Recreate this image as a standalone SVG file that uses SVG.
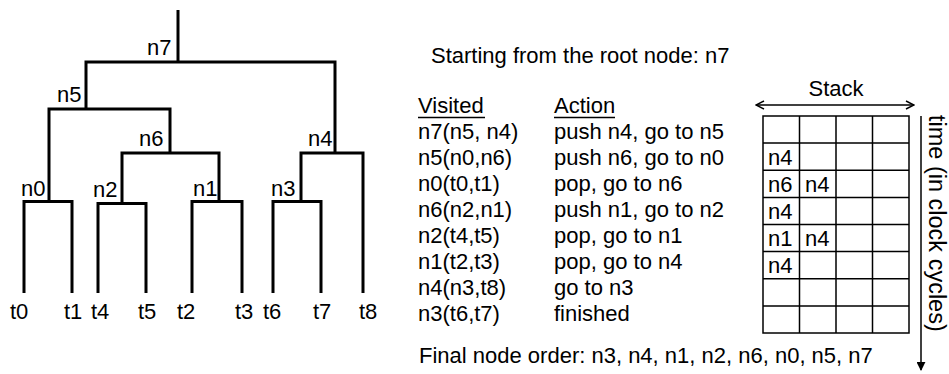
<svg xmlns="http://www.w3.org/2000/svg" width="949" height="374" viewBox="0 0 949 374">
<defs>
<style>
text{font-family:"Liberation Sans",Arial,sans-serif;font-size:22px;fill:#000}
.tree{stroke:#000;stroke-width:3;fill:none}
.grid{stroke:#000;stroke-width:1.5;fill:none}
.ax{stroke:#000;stroke-width:1.5;fill:none}
</style>
<marker id="open" viewBox="0 0 10 10" refX="9" refY="5" markerWidth="10" markerHeight="10" markerUnits="userSpaceOnUse" orient="auto-start-reverse">
<path d="M1,1 L9,5 L1,9" fill="none" stroke="#000" stroke-width="1.5"/>
</marker>
<marker id="fill" viewBox="0 0 10 10" refX="9" refY="5" markerWidth="9" markerHeight="9" markerUnits="userSpaceOnUse" orient="auto">
<path d="M0,0 L10,5 L0,10 Z" fill="#000"/>
</marker>
</defs>
<rect width="949" height="374" fill="#fff"/>
<g id="connectors" class="tree">
<path d="M178,10 V62"/>
<path d="M86,109 V62 H335 V153"/>
<path d="M49,201 V109 H170 V153"/>
<path d="M122,203 V153 H219 V201"/>
<path d="M301,201 V153 H363 V293"/>
<path d="M24,293 V201.5 H72 V293"/>
<path d="M98,293 V203.5 H146 V293"/>
<path d="M192,293 V201.5 H242 V293"/>
<path d="M273,293 V201.5 H321 V293"/>
</g>
<g id="n7"><text x="147" y="55">n7</text></g>
<g id="n5"><text x="57" y="102">n5</text></g>
<g id="n6"><text x="139" y="146">n6</text></g>
<g id="n4"><text x="308" y="146">n4</text></g>
<g id="n0"><text x="21" y="196">n0</text></g>
<g id="n2"><text x="93" y="197">n2</text></g>
<g id="n1"><text x="193" y="196">n1</text></g>
<g id="n3"><text x="271" y="196">n3</text></g>
<g id="leaves">
<text x="10" y="319">t0</text>
<text x="64" y="319">t1</text>
<text x="91" y="319">t4</text>
<text x="138" y="319">t5</text>
<text x="177" y="319">t2</text>
<text x="235" y="319">t3</text>
<text x="263" y="319">t6</text>
<text x="313" y="319">t7</text>
<text x="359" y="319">t8</text>
</g>
<g id="table">
<text x="431" y="63">Starting from the root node: n7</text>
<text x="418" y="113">Visited</text>
<text x="554" y="113">Action</text>
<line class="ax" x1="418" y1="117.5" x2="485" y2="117.5" stroke-width="1.2"/>
<line class="ax" x1="554" y1="117.5" x2="615" y2="117.5" stroke-width="1.2"/>
<text x="418" y="138.5">n7(n5, n4)</text><text x="554" y="138.5">push n4, go to n5</text>
<text x="418" y="164.5">n5(n0,n6)</text><text x="554" y="164.5">push n6, go to n0</text>
<text x="418" y="190.5">n0(t0,t1)</text><text x="554" y="190.5">pop, go to n6</text>
<text x="418" y="216.5">n6(n2,n1)</text><text x="554" y="216.5">push n1, go to n2</text>
<text x="418" y="242.5">n2(t4,t5)</text><text x="554" y="242.5">pop, go to n1</text>
<text x="418" y="268.5">n1(t2,t3)</text><text x="554" y="268.5">pop, go to n4</text>
<text x="418" y="294.5">n4(n3,t8)</text><text x="554" y="294.5">go to n3</text>
<text x="418" y="320.5">n3(t6,t7)</text><text x="554" y="320.5">finished</text>
<text x="419" y="363">Final node order: n3, n4, n1, n2, n6, n0, n5, n7</text>
</g>
<g id="stack">
<text x="836" y="96" text-anchor="middle">Stack</text>
<line class="ax" x1="756" y1="105" x2="914" y2="105" marker-start="url(#open)" marker-end="url(#open)"/>
<rect class="grid" x="763" y="116" width="146" height="217"/>
<path class="grid" d="M799.5,116V333M836,116V333M872.5,116V333M763,143.1H909M763,170.25H909M763,197.4H909M763,224.5H909M763,251.6H909M763,278.75H909M763,305.9H909"/>
<text x="768" y="165">n4</text>
<text x="768" y="192">n6</text><text x="805" y="192">n4</text>
<text x="768" y="219">n4</text>
<text x="768" y="246">n1</text><text x="805" y="246">n4</text>
<text x="768" y="273">n4</text>
<line class="ax" x1="921" y1="116" x2="921" y2="370" marker-end="url(#fill)"/>
<text transform="translate(929,115) rotate(90)" style="font-size:23.5px">time (in clock cycles)</text>
</g>
</svg>
